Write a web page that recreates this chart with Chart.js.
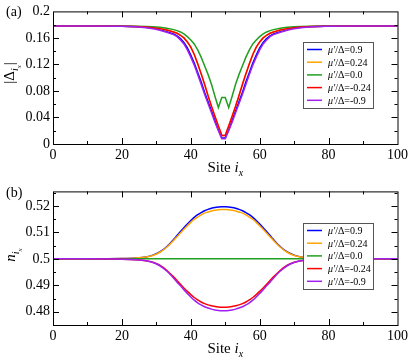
<!DOCTYPE html>
<html>
<head>
<meta charset="utf-8">
<script src="https://cdn.jsdelivr.net/npm/chart.js@4.4.1/dist/chart.umd.min.js"></script>
<style>
  html, body { margin: 0; padding: 0; background: #fff; }
  canvas { display: block; }
</style>
</head>
<body>
<canvas id="gap" width="411" height="180"></canvas>
<canvas id="density" width="411" height="180"></canvas>
<script>
// site index along x (denser sampling around the vortex at the centre)
const sites = [0, 10, 20, 24, 27, 29, 31, 33, 35, 36, 37, 38, 39, 40, 41, 42, 43, 44, 45, 46, 47, 48, 49,
  50, 51, 52, 53, 54, 55, 56, 57, 58, 59, 60, 61, 62, 63, 64, 66, 68, 70, 72, 75, 79, 89, 100];

const muLabels = ['0.9', '0.24', '0.0', '-0.24', '-0.9'];
const colors = ['#0000ff', '#ffa500', '#1fa01f', '#ff0000', '#a020f0'];

const xTicks = [0, 20, 40, 60, 80, 100];
const gapTicks = [0, 0.04, 0.08, 0.12, 0.16, 0.2];
const densityTicks = [0.48, 0.49, 0.5, 0.51, 0.52];

// panel (a): |Delta_i|
const gapBlue = [0.178, 0.178, 0.1775, 0.177, 0.176, 0.1745, 0.1725, 0.1695, 0.166, 0.163, 0.159, 0.153, 0.145, 0.134, 0.122, 0.108, 0.094, 0.078, 0.064, 0.050, 0.036, 0.022, 0.009,
  0.009, 0.022, 0.036, 0.050, 0.064, 0.078, 0.094, 0.108, 0.122, 0.134, 0.145, 0.153, 0.159, 0.163, 0.166, 0.1695, 0.1725, 0.1745, 0.176, 0.177, 0.1775, 0.178, 0.178];
const gapOrange = [0.178, 0.178, 0.1777, 0.1772, 0.1765, 0.1755, 0.174, 0.172, 0.169, 0.167, 0.164, 0.160, 0.154, 0.146, 0.135, 0.121, 0.106, 0.090, 0.073, 0.057, 0.042, 0.027, 0.013,
  0.013, 0.027, 0.042, 0.057, 0.073, 0.090, 0.106, 0.121, 0.135, 0.146, 0.154, 0.160, 0.164, 0.167, 0.169, 0.172, 0.174, 0.1755, 0.1765, 0.1772, 0.1777, 0.178, 0.178];
const gapGreen = [0.178, 0.178, 0.178, 0.1777, 0.1773, 0.1768, 0.176, 0.1745, 0.1725, 0.171, 0.169, 0.166, 0.162, 0.157, 0.151, 0.142, 0.131, 0.118, 0.105, 0.090, 0.072, 0.055, 0.070,
  0.070, 0.055, 0.072, 0.090, 0.105, 0.118, 0.131, 0.142, 0.151, 0.157, 0.162, 0.166, 0.169, 0.171, 0.1725, 0.1745, 0.176, 0.1768, 0.1773, 0.1777, 0.178, 0.178, 0.178];
const gapRed = [0.178, 0.178, 0.1777, 0.1772, 0.1765, 0.1755, 0.174, 0.172, 0.169, 0.167, 0.164, 0.160, 0.154, 0.146, 0.135, 0.121, 0.106, 0.090, 0.073, 0.057, 0.042, 0.027, 0.013,
  0.013, 0.027, 0.042, 0.057, 0.073, 0.090, 0.106, 0.121, 0.135, 0.146, 0.154, 0.160, 0.164, 0.167, 0.169, 0.172, 0.174, 0.1755, 0.1765, 0.1772, 0.1777, 0.178, 0.178];
const gapPurple = [0.178, 0.178, 0.1775, 0.1768, 0.1755, 0.174, 0.1715, 0.1685, 0.165, 0.162, 0.157, 0.151, 0.142, 0.131, 0.119, 0.105, 0.090, 0.075, 0.061, 0.047, 0.033, 0.020, 0.008,
  0.008, 0.020, 0.033, 0.047, 0.061, 0.075, 0.090, 0.105, 0.119, 0.131, 0.142, 0.151, 0.157, 0.162, 0.165, 0.1685, 0.1715, 0.174, 0.1755, 0.1768, 0.1775, 0.178, 0.178];

// panel (b): n_i
const nBlue = [0.5, 0.5, 0.5001, 0.5003, 0.5007, 0.5014, 0.5026, 0.5046, 0.5073, 0.5088, 0.5103, 0.5118, 0.5132, 0.5145, 0.5157, 0.5167, 0.5175, 0.5182, 0.5187, 0.5191, 0.5194, 0.5196, 0.5197,
  0.5197, 0.5196, 0.5194, 0.5191, 0.5187, 0.5182, 0.5175, 0.5167, 0.5157, 0.5145, 0.5132, 0.5118, 0.5103, 0.5088, 0.5073, 0.5046, 0.5026, 0.5014, 0.5007, 0.5003, 0.5001, 0.5, 0.5];
const nOrange = [0.5, 0.5, 0.5001, 0.5003, 0.5007, 0.5013, 0.5025, 0.5044, 0.5069, 0.5084, 0.5098, 0.5112, 0.5125, 0.5138, 0.5149, 0.5158, 0.5166, 0.5173, 0.5177, 0.5181, 0.5184, 0.5186, 0.5187,
  0.5187, 0.5186, 0.5184, 0.5181, 0.5177, 0.5173, 0.5166, 0.5158, 0.5149, 0.5138, 0.5125, 0.5112, 0.5098, 0.5084, 0.5069, 0.5044, 0.5025, 0.5013, 0.5007, 0.5003, 0.5001, 0.5, 0.5];
const nGreen = [0.5, 0.5, 0.5, 0.5, 0.5, 0.5, 0.5, 0.5, 0.5, 0.5, 0.5, 0.5, 0.5, 0.5, 0.5, 0.5, 0.5, 0.5, 0.5, 0.5, 0.5, 0.5, 0.5,
  0.5, 0.5, 0.5, 0.5, 0.5, 0.5, 0.5, 0.5, 0.5, 0.5, 0.5, 0.5, 0.5, 0.5, 0.5, 0.5, 0.5, 0.5, 0.5, 0.5, 0.5, 0.5, 0.5];
const nRed = [0.5, 0.5, 0.4999, 0.4997, 0.4993, 0.4987, 0.4976, 0.4957, 0.4932, 0.4918, 0.4904, 0.4890, 0.4877, 0.4865, 0.4854, 0.4845, 0.4837, 0.4831, 0.4826, 0.4823, 0.4820, 0.4818, 0.4817,
  0.4817, 0.4818, 0.4820, 0.4823, 0.4826, 0.4831, 0.4837, 0.4845, 0.4854, 0.4865, 0.4877, 0.4890, 0.4904, 0.4918, 0.4932, 0.4957, 0.4976, 0.4987, 0.4993, 0.4997, 0.4999, 0.5, 0.5];
const nPurple = [0.5, 0.5, 0.4999, 0.4997, 0.4993, 0.4986, 0.4974, 0.4954, 0.4927, 0.4912, 0.4898, 0.4883, 0.4869, 0.4856, 0.4844, 0.4834, 0.4826, 0.4819, 0.4814, 0.4810, 0.4807, 0.4805, 0.4804,
  0.4804, 0.4805, 0.4807, 0.4810, 0.4814, 0.4819, 0.4826, 0.4834, 0.4844, 0.4856, 0.4869, 0.4883, 0.4898, 0.4912, 0.4927, 0.4954, 0.4974, 0.4986, 0.4993, 0.4997, 0.4999, 0.5, 0.5];

const SERIF = '"Liberation Serif", "DejaVu Serif", serif';

function runsWidth(ctx, runs) {
  let w = 0;
  for (const [text, font] of runs) { ctx.font = font; w += ctx.measureText(text).width; }
  return w;
}
function drawRuns(ctx, x, y, runs) {
  for (const [text, font, dy] of runs) {
    ctx.font = font;
    ctx.fillText(text, x, y + dy);
    x += ctx.measureText(text).width;
  }
}

function minorValues(major, min, max) {
  const out = [];
  for (let i = 0; i < major.length - 1; i++) out.push((major[i] + major[i + 1]) / 2);
  const step = major[1] - major[0];
  const lo = major[0] - step / 2, hi = major[major.length - 1] + step / 2;
  if (lo > min) out.push(lo);
  if (hi < max) out.push(hi);
  return out;
}

// frame with inward ticks on all sides, titles, panel label and legend box
const decorPlugin = {
  id: 'decor',
  afterDatasetsDraw(chart, args, opts) {
    const { ctx, chartArea: a, scales } = chart;
    const xs = scales.x, ys = scales.y;
    ctx.save();
    ctx.strokeStyle = '#000';
    ctx.lineWidth = 1;
    ctx.beginPath();
    const tick = (vals, len) => {
      for (const v of vals) {
        const px = Math.round(xs.getPixelForValue(v)) + 0.5;
        if (px <= a.left + 1 || px >= a.right - 1) continue;
        ctx.moveTo(px, a.bottom); ctx.lineTo(px, a.bottom - len);
        ctx.moveTo(px, a.top); ctx.lineTo(px, a.top + len);
      }
    };
    const ytick = (vals, len) => {
      for (const v of vals) {
        const py = Math.round(ys.getPixelForValue(v)) + 0.5;
        if (py <= a.top + 1 || py >= a.bottom - 1) continue;
        ctx.moveTo(a.left, py); ctx.lineTo(a.left + len, py);
        ctx.moveTo(a.right, py); ctx.lineTo(a.right - len, py);
      }
    };
    tick(xTicks, 6);
    tick(minorValues(xTicks, xs.min, xs.max), 3);
    ytick(opts.yTicks, 6);
    ytick(minorValues(opts.yTicks, ys.min, ys.max), 3);
    ctx.stroke();
    ctx.strokeRect(a.left + 0.5, a.top + 0.5, a.right - a.left, a.bottom - a.top);

    ctx.fillStyle = '#000';
    ctx.textBaseline = 'alphabetic';
    ctx.textAlign = 'left';

    // x title
    const xRuns = [['Site ', '15px ' + SERIF, 0], ['i', 'italic 15px ' + SERIF, 0], ['x', 'italic 10px ' + SERIF, 4]];
    drawRuns(ctx, (a.left + a.right) / 2 - runsWidth(ctx, xRuns) / 2, a.bottom + 28, xRuns);

    // y title (rotated)
    const yRuns = opts.yTitle;
    ctx.save();
    ctx.translate(opts.yTitleX, opts.yTitleY);
    ctx.rotate(-Math.PI / 2);
    drawRuns(ctx, -runsWidth(ctx, yRuns) / 2, 5, yRuns);
    ctx.restore();

    // panel label
    ctx.font = '14px ' + SERIF;
    ctx.fillText(opts.panel, 6, opts.panelY);

    // legend
    const b = opts.legendBox;
    ctx.fillStyle = '#fff';
    ctx.fillRect(b.x, b.y, b.w, b.h);
    ctx.strokeStyle = '#555';
    ctx.lineWidth = 1;
    ctx.strokeRect(b.x + 0.5, b.y + 0.5, b.w, b.h);
    chart.data.datasets.forEach((ds, i) => {
      const y = b.y + 7.5 + i * 12.7;
      ctx.strokeStyle = ds.borderColor;
      ctx.lineWidth = 1.5;
      ctx.beginPath();
      ctx.moveTo(b.x + 4, y); ctx.lineTo(b.x + 19, y);
      ctx.stroke();
      ctx.fillStyle = '#000';
      drawRuns(ctx, b.x + 25, y + 3.5, [["μ'", 'italic 10px ' + SERIF, 0], ['/Δ=' + muLabels[i], '10px ' + SERIF, 0]]);
    });
    ctx.restore();
  }
};

function makeDatasets(series, smooth) {
  return series.map((vals, i) => ({
    label: "μ'/Δ=" + muLabels[i],
    data: sites.map((x, k) => ({ x: x, y: vals[k] })),
    borderColor: colors[i],
    borderWidth: 1.5,
    pointRadius: 0,
    fill: false,
    tension: smooth ? 0.4 : 0,
    cubicInterpolationMode: smooth ? 'monotone' : 'default',
    order: series.length - i
  }));
}

function makeChart(id, series, smooth, yMin, yMax, yTicks, decor) {
  const tickFont = { family: SERIF, size: 14 };
  return new Chart(document.getElementById(id).getContext('2d'), {
    type: 'line',
    data: { datasets: makeDatasets(series, smooth) },
    options: {
      responsive: false,
      animation: false,
      devicePixelRatio: 1,
      layout: { padding: { left: 0, right: 13, top: 7, bottom: 0 } },
      plugins: { legend: { display: false }, tooltip: { enabled: false }, decor: decor },
      scales: {
        x: {
          type: 'linear', min: 0, max: 100,
          grid: { display: false, drawTicks: false },
          border: { display: false },
          ticks: { font: tickFont, color: '#000', padding: 3, maxRotation: 0 },
          afterBuildTicks: (s) => { s.ticks = xTicks.map(v => ({ value: v })); },
          afterFit: (s) => { s.height = decor.xHeight; }
        },
        y: {
          type: 'linear', min: yMin, max: yMax,
          grid: { display: false, drawTicks: false },
          border: { display: false },
          ticks: { font: tickFont, color: '#000', padding: 3, callback: (v) => String(+v.toFixed(3)) },
          afterBuildTicks: (s) => { s.ticks = yTicks.map(v => ({ value: v })); },
          afterFit: (s) => { s.width = 53; }
        }
      }
    },
    plugins: [decorPlugin]
  });
}

makeChart('gap', [gapBlue, gapOrange, gapGreen, gapRed, gapPurple], false, 0, 0.2, gapTicks, {
  yTicks: gapTicks, xHeight: 36, panel: '(a)', panelY: 16,
  yTitleX: 9, yTitleY: 73,
  yTitle: [['|Δ', '15px ' + SERIF, 0], ['i', 'italic 10px ' + SERIF, 4], ['x', 'italic 7px ' + SERIF, 7], ['|', '15px ' + SERIF, 0]],
  legendBox: { x: 303, y: 42, w: 70, h: 66 }
});

makeChart('density', [nBlue, nOrange, nGreen, nRed, nPurple], true, 0.475, 0.5255, densityTicks, {
  yTicks: densityTicks, xHeight: 35, panel: '(b)', panelY: 17,
  yTitleX: 10, yTitleY: 75,
  yTitle: [['n', 'italic 15px ' + SERIF, 0], ['i', 'italic 10px ' + SERIF, 4], ['x', 'italic 7px ' + SERIF, 7]],
  legendBox: { x: 303, y: 43, w: 70, h: 66 }
});
</script>
</body>
</html>
